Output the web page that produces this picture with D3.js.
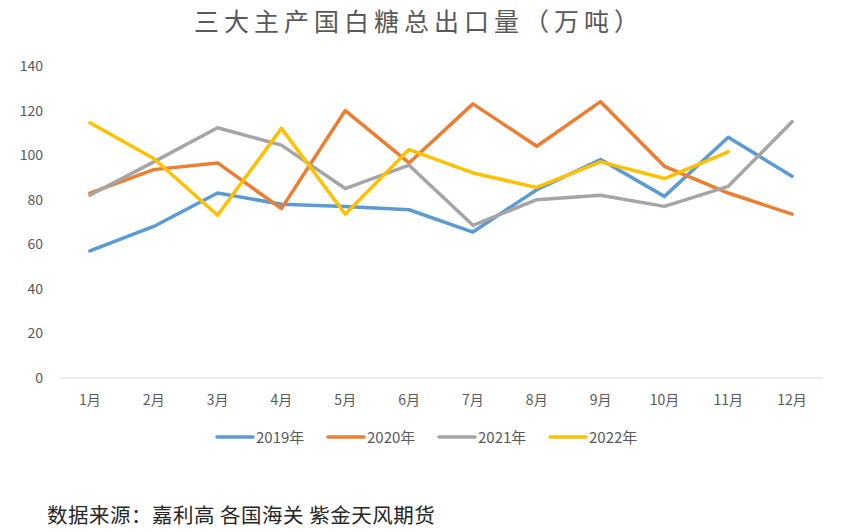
<!DOCTYPE html>
<html>
<head>
<meta charset="utf-8">
<script src="https://cdn.jsdelivr.net/npm/d3@7"></script>
<style>
  body { margin: 0; background: #fff; }
  svg text { font-family: "Noto Sans CJK SC", "Noto Sans", sans-serif; }
</style>
</head>
<body>
<div id="chart"></div>
<script>
// data (万吨)
const months = ["1月","2月","3月","4月","5月","6月","7月","8月","9月","10月","11月","12月"];
const y2019 = [57, 68, 83, 78, 77, 75.5, 65.5, 84.5, 98, 81.5, 108, 90.5];
const y2020 = [83, 93.5, 96.5, 76, 120, 96.5, 123, 104, 124, 95, 83, 73.5];
const y2021 = [82, 97, 112.3, 104.5, 85, 95.5, 68.5, 80, 82, 77, 86, 115];
const y2022 = [114.5, 98.5, 73, 112, 73.5, 102.5, 92, 85.5, 97, 89.5, 101.5, null];
const yTicks = [0, 20, 40, 60, 80, 100, 120, 140];

const seriesNames = ["2019年", "2020年", "2021年", "2022年"];
const seriesVals = [y2019, y2020, y2021, y2022];
const colors = ["#5B9BD5", "#ED7D31", "#A5A5A5", "#FFC000"];

const W = 861, H = 532;
const svg = d3.select("#chart").append("svg")
  .attr("width", W).attr("height", H);

// title
svg.append("text")
  .attr("x", 419).attr("y", 31)
  .attr("text-anchor", "middle")
  .attr("font-size", 25)
  .attr("letter-spacing", 5)
  .attr("fill", "#595959")
  .text("三大主产国白糖总出口量（万吨）");

var x = d3.scalePoint()
  .domain(months)
  .range([58, 824])
  .padding(0.5);

var y = d3.scaleLinear()
  .domain([0, 140])
  .range([378, 66]);

// baseline
svg.append("line")
  .attr("x1", 60).attr("x2", 823)
  .attr("y1", y(0)).attr("y2", y(0))
  .attr("stroke", "#d9d9d9").attr("stroke-width", 1);

// y labels
svg.append("g")
  .selectAll("text")
  .data(yTicks)
  .enter()
  .append("text")
  .attr("x", 43)
  .attr("y", d => y(d) + 5)
  .attr("text-anchor", "end")
  .attr("font-size", 14)
  .attr("fill", "#595959")
  .text(d => d);

// x labels
svg.append("g")
  .selectAll("text")
  .data(months)
  .enter()
  .append("text")
  .attr("x", d => x(d))
  .attr("y", 405)
  .attr("text-anchor", "middle")
  .attr("font-size", 14)
  .attr("fill", "#595959")
  .text(d => d);

// lines
var line = d3.line()
  .defined(d => d.v != null)
  .x(d => x(d.m))
  .y(d => y(d.v));

seriesVals.forEach(function (vals, i) {
  var pts = months.map((m, j) => ({ m: m, v: vals[j] }));
  svg.append("path")
    .datum(pts)
    .attr("d", line)
    .attr("fill", "none")
    .attr("stroke", colors[i])
    .attr("stroke-width", 3.5)
    .attr("stroke-linejoin", "round")
    .attr("stroke-linecap", "round");
});

// legend
var legX = [215, 326, 437, 548];
seriesNames.forEach(function (name, i) {
  var g = svg.append("g").attr("transform", "translate(" + legX[i] + ",437)");
  g.append("line")
    .attr("x1", 2).attr("x2", 38)
    .attr("stroke", colors[i]).attr("stroke-width", 3.5)
    .attr("stroke-linecap", "round");
  g.append("text")
    .attr("x", 41).attr("y", 5.5)
    .attr("font-size", 15)
    .attr("fill", "#595959")
    .text(name);
});

// source note
svg.append("text")
  .attr("x", 47).attr("y", 523)
  .attr("font-size", 20.5)
  .attr("letter-spacing", 0.5)
  .attr("fill", "#262626")
  .text("数据来源：嘉利高 各国海关 紫金天风期货");
</script>
</body>
</html>
